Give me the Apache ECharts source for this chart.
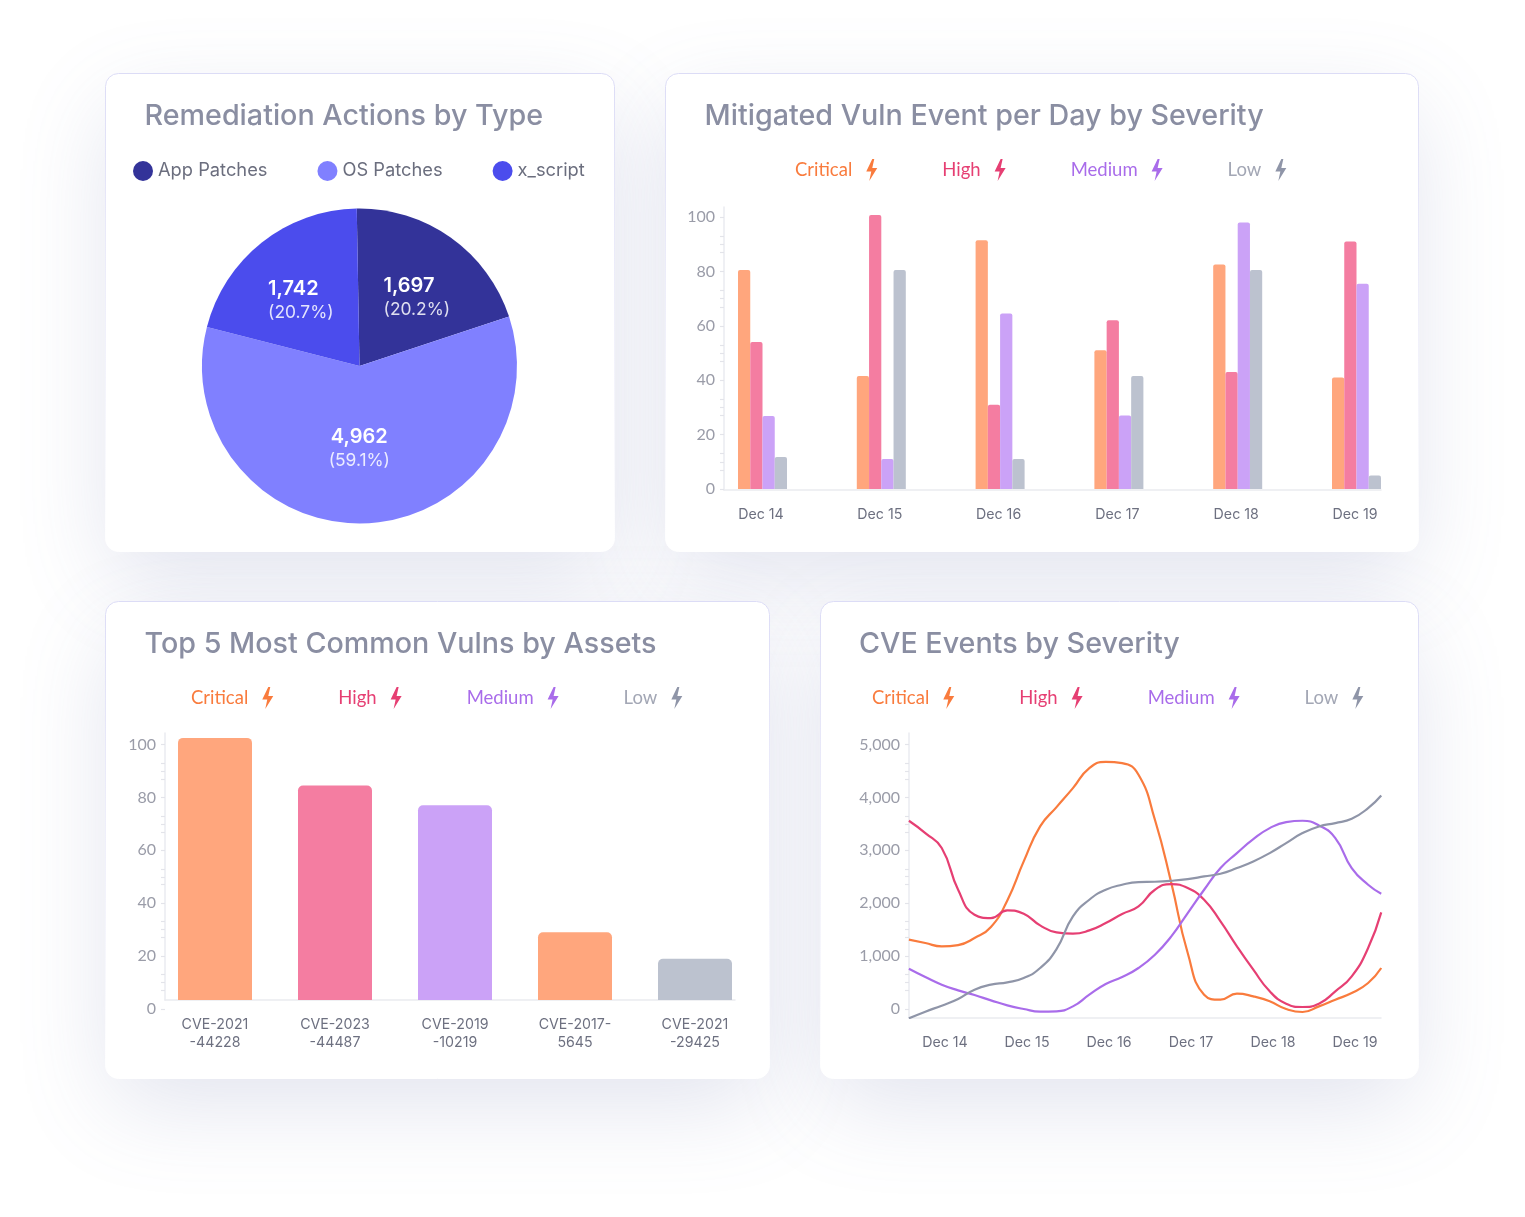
<!DOCTYPE html>
<html><head><meta charset="utf-8">
<style>html,body{margin:0;padding:0;background:#fff}#c{width:1525px;height:1217px}</style>
<script src="https://cdn.jsdelivr.net/npm/echarts@6/dist/echarts.min.js"></script>
</head><body><div id="c"></div>
<script>
const remediationNames = ['App Patches','OS Patches','x_script'];
const remediationValues = [1697,4962,1742];
const severities = ['Critical','High','Medium','Low'];
const days = ['Dec 14','Dec 15','Dec 16','Dec 17','Dec 18','Dec 19'];
const mitigatedCritical = [80.5,41.5,91.5,51,82.5,41];
const mitigatedHigh = [54,100.7,31,62,43,91];
const mitigatedMedium = [26.8,11,64.5,27,98,75.5];
const mitigatedLow = [11.8,80.5,11,41.5,80.5,5];
const cveNames = ['CVE-2021\n-44228','CVE-2023\n-44487','CVE-2019\n-10219','CVE-2017-\n5645','CVE-2021\n-29425'];
const cveValues = [102.5,84.5,77,29,19];
const cveSeverity = ['Critical','High','Medium','Critical','Low'];
const eventDays = [-0.44,-0.24,-0.04,0.16,0.36,0.56,0.76,0.96,1.16,1.36,1.56,1.76,1.96,2.16,2.36,2.56,2.76,2.96,3.16,3.36,3.56,3.76,3.96,4.16,4.36,4.56,4.76,4.96,5.16,5.32];
const eventsCritical = [1310,1247,1184,1209,1341,1549,2053,2790,3451,3816,4175,4553,4672,4647,4427,3577,2380,1058,271,176,290,239,145,0,-57,50,176,302,491,775];
const eventsHigh = [3558,3325,3042,2254,1782,1719,1864,1801,1581,1448,1423,1486,1625,1795,1939,2254,2361,2286,2065,1656,1184,743,334,101,38,101,334,617,1152,1826];
const eventsMedium = [762,605,460,353,264,164,69,0,-50,-44,50,271,472,605,775,1026,1373,1813,2254,2664,2947,3211,3419,3533,3558,3470,3230,2664,2349,2179];
const eventsLow = [-176,-50,63,189,365,460,504,586,775,1133,1750,2065,2254,2349,2399,2405,2424,2456,2506,2557,2664,2790,2947,3136,3325,3451,3514,3596,3797,4036];
const pctLabels = [0,20,40,60,80,100];
const pctTicks = [0,7,10,13,20,27,30,33,40,47,50,53,60,67,70,73,80,87,90,93,100];
const countLabels = [0,1000,2000,3000,4000,5000];
const countTicks = [0,350,500,650,1000,1350,1500,1650,2000,2350,2500,2650,3000,3350,3500,3650,4000,4350,4500,4650,5000];

const FONT='Inter', NUM='Lato';
const strong={Critical:'#f97b3d',High:'#e63f73',Medium:'#a96cea',Low:'#8f95a8'};
const textCol={Critical:'#f97b3d',High:'#e63f73',Medium:'#a96cea',Low:'#a3a7b5'};
const soft={Critical:'#ffa67d',High:'#f47da1',Medium:'#cba2f7',Low:'#bcc2cf'};
const pieColors=['#333399','#8080ff','#4b4ced'];
const AXIS='#eaebf0', TICK='#e3e4ea', XTXT='#6d7080', YTXT='#9a9ca8';
const BOLT='path://M6,0 L0,12.5 L5,12.5 L3,22 L11,9 L6,9 L8,0 Z';

const cards=[[105,73,510,479],[665,73,754,479],[105,601,665,478],[820,601,599,478]];
const graphic=[
 ...cards.map(c=>({type:'rect',z:-3,silent:true,shape:{x:c[0]+6,y:c[1]+6,width:c[2]-12,height:c[3]-12,r:12},
   style:{fill:'#fff',shadowBlur:95,shadowOffsetY:30,shadowColor:'rgba(105,115,170,0.20)'}})),
 ...cards.map(c=>({type:'rect',z:-2,silent:true,shape:{x:c[0]+.5,y:c[1]+.5,width:c[2]-1,height:c[3]-1,r:13},
   style:{fill:'#fff',lineWidth:1,stroke:new echarts.graphic.LinearGradient(0,0,0,1,[{offset:0,color:'#dcdcf6'},{offset:.45,color:'#eeeefa'},{offset:1,color:'#ffffff'}])}}))
];
const titles=[['Remediation Actions by Type',144.5,99],['Mitigated Vuln Event per Day by Severity',704.5,99],['Top 5 Most Common Vulns by Assets',144.5,627],['CVE Events by Severity',859,627]]
 .map(t=>({text:t[0],left:t[1],top:t[2],padding:0,textStyle:{fontFamily:FONT,fontSize:28.7,fontWeight:500,color:'#8a8ea2',lineHeight:34}}));
const sevLegend=(left,top)=>({left,top,padding:0,orient:'horizontal',selectedMode:false,align:'right',itemWidth:29,itemHeight:22,itemGap:65,
  data:severities.map(s=>({name:s,icon:BOLT,itemStyle:{color:strong[s]},textStyle:{color:textCol[s],fontFamily:NUM,fontSize:18.5}}))});
const legends=[
 {left:133,top:161,padding:0,selectedMode:false,icon:'circle',itemWidth:20,itemHeight:20,itemGap:50,
  data:remediationNames.map((n,i)=>({name:n,itemStyle:{color:pieColors[i]}})),textStyle:{fontFamily:FONT,fontSize:18.3,color:'#6b6e7e'}},
 sevLegend(795,159),sevLegend(191,687),sevLegend(872,687)
];
const grids=[
 {left:724,right:144,top:207,bottom:727},
 {left:165,right:790,top:733,bottom:217},
 {left:165,right:1358,top:733,bottom:208},
 {left:909,right:144,top:733,bottom:199}
];
const xLine={show:true,onZero:false,lineStyle:{color:AXIS,width:1.5}};
const xLabel=(fmt,margin)=>({fontFamily:FONT,fontSize:14.2,color:XTXT,margin,lineHeight:18,formatter:fmt});
const barStep=118.8, cveStep=120, dayStep=82;
const xAxis=[
 {gridIndex:0,type:'value',min:(724-762.5)/barStep,max:(1381-762.5)/barStep,splitLine:{show:false},axisTick:{show:false},axisLine:xLine,
  axisLabel:{...xLabel(v=>days[Math.round(v)],16),customValues:days.map((d,i)=>i),padding:[0,3,0,0]}},
 {gridIndex:1,type:'value',min:(165-215)/cveStep,max:(735-215)/cveStep,splitLine:{show:false},axisTick:{show:false},axisLine:xLine,
  axisLabel:{...xLabel(v=>cveNames[Math.round(v)],16),customValues:cveNames.map((d,i)=>i)}},
 {gridIndex:2,type:'value',show:false},
 {gridIndex:3,type:'value',min:(909-945)/dayStep,max:(1381-945)/dayStep,splitLine:{show:false},axisTick:{show:false},axisLine:xLine,
  axisLabel:{...xLabel(v=>days[Math.round(v)],16),customValues:days.map((d,i)=>i)}}
];
const yLabel=(vals,fmt)=>({fontFamily:NUM,fontSize:16,color:YTXT,margin:9,verticalAlign:'middle',lineHeight:20,padding:[2,0,0,0],customValues:vals,formatter:fmt});
const yLine={show:true,onZero:false,lineStyle:{color:AXIS,width:1.5}};
const yTick=(vals)=>({show:true,length:4,customValues:vals,lineStyle:{color:TICK,width:1.2}});
const yAxis=[
 {gridIndex:0,type:'value',min:-0.37,max:103.68,splitLine:{show:false},axisLine:yLine,axisTick:yTick(pctTicks),axisLabel:yLabel(pctLabels)},
 {gridIndex:1,type:'value',min:3.4,max:104.35,splitLine:{show:false},axisLine:yLine,axisTick:{show:false},axisLabel:{show:false}},
 {gridIndex:2,type:'value',min:0,max:104.35,splitLine:{show:false},axisLine:{show:false},axisTick:yTick(pctTicks),axisLabel:yLabel(pctLabels)},
 {gridIndex:3,type:'value',min:-170,max:5217,splitLine:{show:false},axisLine:yLine,axisTick:yTick(countTicks),axisLabel:yLabel(countLabels,v=>v.toLocaleString('en-US'))}
];
const mitigated=[mitigatedCritical,mitigatedHigh,mitigatedMedium,mitigatedLow];
const events=[eventsCritical,eventsHigh,eventsMedium,eventsLow];
const labelOffsets=[[10,-1.5],[-3,1],[-8,-1]];
const series=[
 {type:'pie',name:'Remediation',center:[359.5,366],radius:[0,157.5],startAngle:91,silent:true,clockwise:true,
  data:remediationNames.map((n,i)=>({name:n,value:remediationValues[i],itemStyle:{color:pieColors[i]},
    label:{offset:labelOffsets[i]}})),
  labelLine:{show:false},
  label:{show:true,position:'inside',
   formatter:p=>{const t=p.dataIndex===1?'c':'a';return '{'+t+'|'+p.value.toLocaleString('en-US')+'}\n{'+t+'p|('+p.percent.toFixed(1)+'%)}';},
   rich:{a:{fontFamily:FONT,fontSize:20,fontWeight:600,color:'#fff',align:'left',lineHeight:24},
         ap:{fontFamily:FONT,fontSize:17.4,color:'rgba(255,255,255,.85)',align:'left',lineHeight:23},
         c:{fontFamily:FONT,fontSize:20,fontWeight:600,color:'#fff',align:'center',lineHeight:24},
         cp:{fontFamily:FONT,fontSize:17.4,color:'rgba(255,255,255,.85)',align:'center',lineHeight:23}}}},
 ...severities.map((s,k)=>({type:'bar',name:s,xAxisIndex:0,yAxisIndex:0,barWidth:12.25,barGap:0,clip:false,
   itemStyle:{color:soft[s],borderRadius:[2,2,0,0]},data:mitigated[k].map((v,i)=>[i,v])})),
 ...severities.map(s=>({type:'bar',name:s,xAxisIndex:1,yAxisIndex:1,barWidth:74,stack:'cve',clip:true,
   itemStyle:{color:soft[s],borderRadius:[5,5,0,0]},
   data:cveValues.map((v,i)=>cveSeverity[i]===s?[i,v]:null).filter(Boolean)})),
 ...severities.map((s,k)=>({type:'line',name:s,xAxisIndex:3,yAxisIndex:3,smooth:0.5,symbol:'none',
   lineStyle:{color:strong[s],width:2.2},itemStyle:{color:strong[s]},data:eventDays.map((d,i)=>[d,events[k][i]])}))
];
const chart=echarts.init(document.getElementById('c'),null,{renderer:'canvas',width:1525,height:1217});
chart.setOption({animation:false,backgroundColor:'#fff',graphic,title:titles,legend:legends,grid:grids,xAxis,yAxis,series,tooltip:{show:false}});
</script></body></html>
